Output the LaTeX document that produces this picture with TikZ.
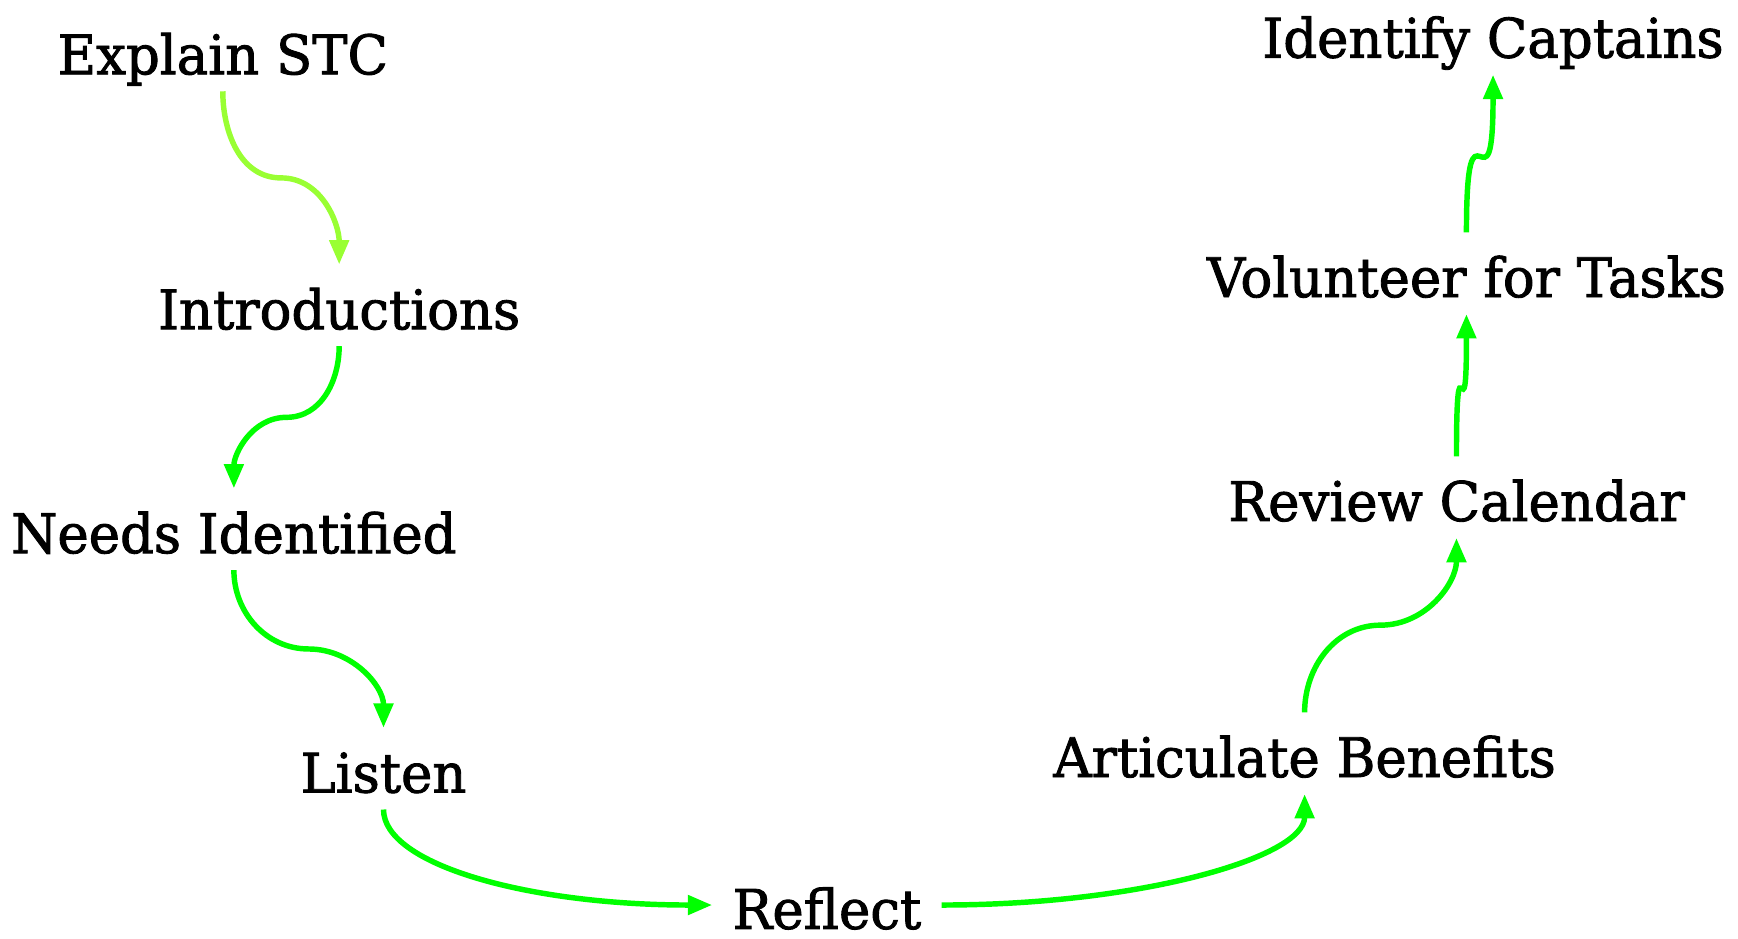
\documentclass[tikz,border=0pt]{standalone}
\usepackage{fontspec}
\setmainfont{DejaVu Serif}[FakeBold=1.6, FakeStretch=0.97]
\usetikzlibrary{arrows.meta,calc}

\definecolor{limegreen}{RGB}{153,255,51}
\definecolor{puregreen}{RGB}{0,255,0}

\tikzset{
  stage/.style={anchor=base, inner xsep=0.36cm, inner ysep=0pt,
    text height=1.16cm, text depth=0.3cm,
    font=\fontsize{28}{34}\selectfont},
  flow/.style={-{Triangle[length=0.44cm,width=0.34cm]}, line width=2.8pt,
    draw=puregreen}
}

\begin{document}
\begin{tikzpicture}[x=0.02cm, y=-0.02cm]
                \useasboundingbox (0,0) rectangle (1568,847);

                \node[stage] (explain) at (201,67) {Explain STC};
                \node[stage] (intro) at (306,297) {Introductions};
                \node[stage] (needs) at (211,499) {Needs Identified};
                \node[stage] (listen) at (346,715) {Listen};
                \node[stage] (reflect) at (746,838) {Reflect};
                \node[stage] (benefits) at (1177,701) {Articulate Benefits};
                \node[stage] (calendar) at (1314,470) {Review Calendar};
                \node[stage] (tasks) at (1323,268) {Volunteer for Tasks};
                \node[stage] (captains) at (1347,52) {Identify Captains};

                \draw[flow, draw=limegreen] (explain.south) to[out=-90,in=180] ($(explain.south)!0.5!(intro.north)$) to[out=0,in=90] (intro.north);
                \draw[flow] (intro.south) to[out=-90,in=0] ($(intro.south)!0.5!(needs.north)$) to[out=180,in=90] (needs.north);
                \draw[flow] (needs.south) to[out=-90,in=180] ($(needs.south)!0.5!(listen.north)$) to[out=0,in=90] (listen.north);
                \draw[flow] (listen.south) .. controls +(0,50) and +(-165,0) .. (reflect.west);
                \draw[flow] (reflect.east) .. controls +(180,0) and +(0,57) .. (benefits.south);
                \draw[flow] (benefits.north) to[out=90,in=180] ($(benefits.north)!0.5!(calendar.south)$) to[out=0,in=-90] (calendar.south);
                \draw[flow] (calendar.north) .. controls +(0,-125) and +(0,125) .. (tasks.south);
                \draw[flow] (tasks.north) .. controls +(0,-139) and +(0,139) .. (captains.south);
            \end{tikzpicture}
\end{document}
